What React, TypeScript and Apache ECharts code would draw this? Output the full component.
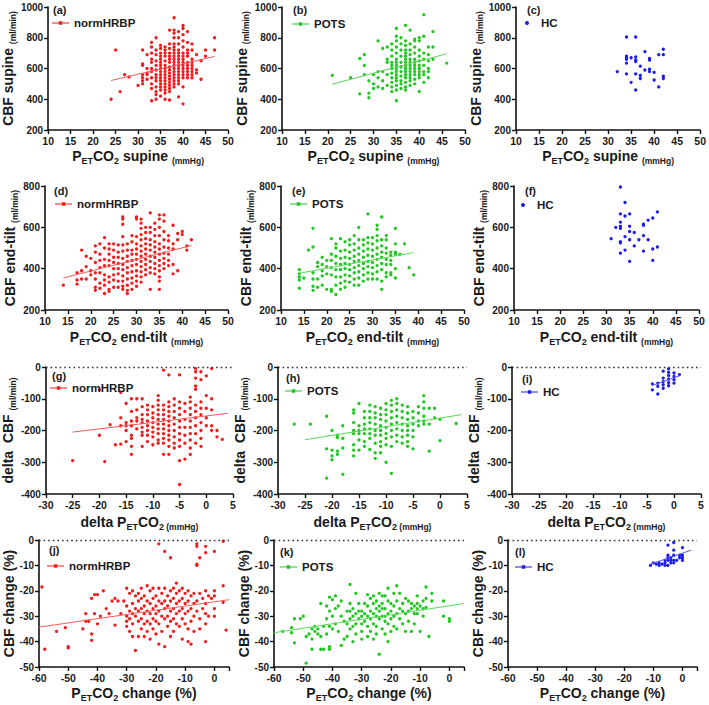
import React, { useEffect, useRef } from 'react';
import * as echarts from 'echarts';

type Col = [number, number[]];
type Pt = [number, number];

// ---------- DATA ----------
// (a) normHRBP: PETCO2 supine (mmHg) vs CBF supine (ml/min)
const normSupine: Col[] = [
  [24, [400]], [25, [720]], [26, [450]], [27, [560]], [28, [545]], [30, [490]],
  [31, [720, 630, 620, 560, 540, 520, 500]],
  [32, [690, 600, 570, 560, 530]],
  [33, [770, 740, 700, 660, 640, 600, 580, 540, 500, 470, 390]],
  [34, [800, 720, 690, 650, 620, 590, 560, 540, 520, 480, 450, 430, 400]],
  [35, [750, 730, 700, 680, 660, 640, 620, 600, 580, 560, 540, 520, 500, 480, 460, 420]],
  [36, [740, 720, 700, 680, 650, 620, 600, 580, 560, 540, 520, 500, 480, 460, 440, 400]],
  [37, [850, 760, 730, 700, 680, 660, 640, 610, 590, 570, 550, 530, 510, 490, 470, 450, 395]],
  [38, [930, 850, 830, 800, 760, 740, 720, 700, 680, 660, 640, 620, 600, 580, 560, 540, 520, 500, 480]],
  [39, [840, 800, 760, 720, 700, 680, 660, 640, 620, 600, 580, 560, 540, 520, 500, 415]],
  [40, [880, 860, 820, 780, 740, 700, 680, 660, 640, 620, 600, 580, 560, 540, 480, 370]],
  [41, [840, 770, 720, 700, 680, 640, 620, 600, 580, 560, 540]],
  [42, [760, 720, 660, 640, 620, 600, 580, 560, 540]],
  [43, [690, 590, 570]], [44, [650, 530]], [45, [720, 680]], [47, [800, 720]],
];
const fitNormSupine: Pt[] = [[24, 522], [47, 678]];

// (b) POTS supine
const potsSupine: Col[] = [
  [21, [555]], [25, [540]], [27, [665, 435]], [28, [690, 620, 560]], [29, [520, 440, 410]],
  [30, [560, 500, 470]], [31, [780, 580, 540, 480]], [32, [730, 580, 520, 470]],
  [33, [740, 660, 640, 560, 490]],
  [34, [760, 720, 680, 640, 620, 600, 570, 540, 510, 480, 450]],
  [35, [860, 810, 780, 740, 700, 660, 640, 620, 600, 580, 560, 540, 520, 490, 460, 390]],
  [36, [800, 760, 720, 680, 640, 610, 580, 550, 520, 500, 470]],
  [37, [880, 780, 750, 720, 700, 680, 660, 640, 620, 600, 580, 560, 540, 510, 480, 460]],
  [38, [850, 760, 720, 690, 660, 640, 620, 600, 580, 560, 540, 520, 490]],
  [39, [790, 780, 740, 700, 660, 640, 620, 600, 580, 560, 530, 500]],
  [40, [800, 780, 720, 680, 650, 620, 600, 580, 560, 540, 450]],
  [41, [950, 810, 700, 660, 620, 580, 560, 510]],
  [42, [740, 690, 650, 600, 580, 540]], [43, [840, 740, 660]], [46, [635]],
];
const fitPotsSupine: Pt[] = [[21, 498], [46, 696]];

// (c) HC supine
const hcSupine: Pt[] = [
  [34, 805], [36, 805], [34, 680], [34, 670], [34, 660], [34, 635], [34, 565], [32, 580],
  [35, 670], [35, 510], [36, 675], [36, 655], [36, 645], [36, 565], [36, 460], [37, 615],
  [37, 555], [37, 535], [38, 710], [38, 590], [39, 665], [39, 655], [39, 595], [39, 580],
  [40, 575], [40, 525], [41, 690], [41, 480], [42, 725], [42, 690], [42, 550], [42, 535],
];

// (d) normHRBP end-tilt
const normTilt: Col[] = [
  [14, [320]], [17, [380, 345, 325]], [18, [490, 390, 350]], [19, [460, 410, 350]],
  [20, [450, 390, 370]], [21, [510, 480, 430, 380, 350, 310, 295]],
  [22, [520, 470, 440, 405, 380, 330, 305]],
  [23, [550, 500, 445, 415, 370, 345, 320, 280]],
  [24, [520, 495, 470, 440, 415, 360, 335, 300, 290]],
  [25, [520, 490, 455, 430, 400, 370, 345, 310]],
  [26, [515, 480, 455, 425, 400, 375, 340, 310]],
  [27, [650, 640, 615, 555, 515, 485, 450, 420, 395, 365, 340, 315, 300]],
  [28, [520, 490, 460, 435, 405, 380, 350, 320, 295, 280]],
  [29, [560, 530, 490, 470, 440, 415, 385, 355, 330, 300]],
  [30, [650, 640, 555, 520, 495, 470, 445, 420, 390, 365, 340, 315]],
  [31, [640, 620, 595, 565, 540, 510, 485, 460, 435, 410, 385, 360, 335]],
  [32, [600, 575, 545, 520, 495, 470, 445, 420, 395, 370]],
  [33, [670, 600, 575, 540, 515, 490, 460, 435, 405, 380, 300]],
  [34, [620, 590, 560, 530, 505, 480, 455, 425, 400, 375]],
  [35, [660, 640, 600, 560, 520, 495, 470, 440, 415, 390, 360, 340, 300]],
  [36, [660, 630, 580, 540, 505, 475, 450, 425, 400]],
  [37, [560, 535, 500, 470, 440, 415]], [38, [610, 520, 495, 420, 375]],
  [39, [570, 540, 390]], [40, [580, 565]], [41, [510, 490]], [42, [540]],
];
const fitNormTilt: Pt[] = [[14, 355], [42, 512]];

// (e) POTS end-tilt
const potsTilt: Col[] = [
  [14, [395, 375, 360, 345, 305]], [15, [355]], [16, [490]], [17, [595, 505, 380, 350, 315, 295]],
  [18, [430, 410, 350, 310]], [19, [455, 420, 390, 365, 320]], [20, [440, 410, 375, 300]],
  [21, [545, 470, 440, 405, 370, 300, 290]],
  [22, [520, 500, 460, 425, 395, 360, 320, 275]],
  [23, [545, 485, 450, 420, 395, 360, 330, 300]],
  [24, [530, 490, 455, 425, 400, 370, 340, 310]],
  [25, [540, 515, 480, 450, 420, 395, 365, 335]],
  [26, [560, 520, 490, 460, 435, 405, 380, 350, 320]],
  [27, [600, 540, 500, 470, 440, 415, 385, 355, 320]],
  [28, [540, 515, 485, 455, 425, 400, 370, 340]],
  [29, [665, 550, 525, 495, 465, 435, 410, 380, 350]],
  [30, [550, 520, 490, 460, 430, 405, 375, 350]],
  [31, [610, 590, 560, 535, 500, 470, 445, 415, 385, 350]],
  [32, [650, 540, 510, 480, 455, 425, 395, 340, 300]],
  [33, [560, 540, 500, 475, 445, 420, 380, 360]],
  [34, [480, 465, 440, 420, 380, 370]], [35, [595, 520, 480, 470, 400, 355]],
  [36, [470]], [37, [520]], [38, [405]], [39, [370]],
];
const fitPotsTilt: Pt[] = [[14, 378], [39, 478]];

// (f) HC end-tilt
const hcTilt: Pt[] = [
  [33, 795], [34, 720], [33, 665], [34, 655], [35, 665], [32, 600], [33, 605], [33, 595],
  [33, 625], [35, 605], [36, 575], [35, 580], [31, 545], [33, 530], [33, 525], [34, 555],
  [35, 540], [37, 540], [38, 560], [38, 610], [38, 615], [39, 635], [39, 540], [40, 645],
  [41, 675], [36, 510], [33, 475], [34, 490], [38, 485], [40, 495], [41, 505], [35, 435], [40, 440],
];

// (g) normHRBP delta PETCO2 (mmHg) vs delta CBF (ml/min)
const normDelta: Col[] = [
  [-25, [-295]], [-20, [-72, -215]], [-19, [-298]], [-18, [-182]], [-17, [-245]],
  [-16, [-80, -160, -185, -243]], [-15, [-115, -175, -185, -200, -235]],
  [-14, [-100, -140, -170, -185, -215, -225, -250, -275]],
  [-13, [-100, -135, -160, -170, -195]],
  [-12, [-100, -125, -150, -165, -175, -190, -205, -215, -250]],
  [-11, [-120, -135, -150, -170, -185, -200, -215, -235]],
  [-10, [-125, -145, -160, -175, -190, -205, -220, -245]],
  [-9, [-90, -105, -120, -135, -150, -165, -180, -195, -210, -230, -240]],
  [-8, [-10, -120, -135, -150, -165, -180, -195, -210, -225, -240, -275]],
  [-7, [-25, -110, -125, -140, -155, -170, -185, -200, -215, -230, -250, -275]],
  [-6, [-100, -120, -140, -160, -180, -200, -220, -240, -255]],
  [-5, [-25, -110, -130, -150, -170, -190, -210, -230, -250, -295, -370]],
  [-4, [-115, -140, -165, -190, -215, -240, -290]],
  [-3, [-95, -110, -130, -150, -170, -190, -210, -230, -255, -275]],
  [-2, [-5, -15, -35, -60, -70, -120, -140, -160, -185, -210, -240]],
  [-1, [-15, -40, -110, -130, -150, -175, -200, -225, -250]],
  [0, [-28, -90, -130, -160, -185]], [1, [-5, -100, -135, -185, -200]],
  [2, [-200, -220]], [3, [-228]],
];
const fitNormDelta: Pt[] = [[-25, -205], [4, -146]];

// (h) POTS delta
const potsDelta: Col[] = [
  [-27, [-180]], [-24, [-180]], [-21, [-155, -258, -350]], [-20, [-200, -262, -280, -292]],
  [-19, [-215, -222, -265, -275]], [-18, [-185, -225, -255, -338]],
  [-16, [-135, -145, -175, -200, -210, -245, -262, -280]],
  [-15, [-115, -185, -200, -210, -230, -262]],
  [-14, [-140, -160, -180, -195, -210, -235, -250]],
  [-13, [-120, -140, -160, -175, -195, -210, -225, -260]],
  [-12, [-125, -145, -160, -180, -200, -215, -240, -270, -288]],
  [-11, [-130, -150, -165, -185, -200, -215, -235, -250, -270]],
  [-10, [-115, -135, -150, -170, -190, -210, -225, -245, -300]],
  [-9, [-105, -120, -140, -160, -180, -200, -220, -250, -335]],
  [-8, [-100, -115, -135, -155, -175, -195, -215, -235]],
  [-7, [-120, -140, -160, -180, -200, -220, -240]],
  [-6, [-125, -145, -165, -185, -200, -215, -235, -250]],
  [-5, [-140, -160, -180, -200, -220, -258]],
  [-4, [-125, -145, -170, -185]], [-3, [-90, -110, -130, -155, -170, -180]],
  [-2, [-130, -180, -265]], [-1, [-130, -160]], [0, [-165, -232]], [3, [-178]],
];
const fitPotsDelta: Pt[] = [[-25, -229], [4, -150]];

// (i) HC delta
const hcDelta: Pt[] = [
  [-4, -53], [-4, -72], [-3, -51], [-3, -61], [-3, -85], [-2, -13], [-2, -35], [-2, -46],
  [-2, -56], [-2, -67], [-1, -6], [-1, -17], [-1, -27], [-1, -38], [-1, -49], [-1, -59],
  [0, -19], [0, -30], [0, -40], [0, -51], [1, -24],
];
const fitHcDelta: Pt[] = [[-4, -58], [1, -28]];

// (j) normHRBP PETCO2 change (%) vs CBF change (%)
const normChange: Pt[] = [
  [-59, -18.5], [-58, -43], [-54, -36], [-51, -34.5], [-50, -42], [-50, -42.5], [-45, -35],
  [-44, -29], [-44, -32], [-43, -32], [-42, -23], [-42, -37], [-42, -39.5], [-41, -21.5],
  [-41, -29], [-40, -21.5], [-40, -33], [-39, -30], [-38, -20], [-37, -27], [-36, -29],
  [-35, -24], [-34, -33.5], [-34, -23], [-33, -24], [-32, -29], [-31, -24],
  [-30, -19], [-30, -26], [-30, -30], [-30, -32], [-30, -34], [-29, -21], [-29, -28], [-29, -31],
  [-29, -36], [-28, -20], [-28, -25], [-28, -29], [-28, -33], [-28, -38], [-27, -22], [-27, -27],
  [-27, -30], [-27, -43.5], [-26, -21], [-26, -24], [-26, -28], [-26, -32], [-26, -38],
  [-25, -19], [-25, -23], [-25, -27], [-25, -31], [-25, -35], [-24, -22], [-24, -26], [-24, -29],
  [-24, -33], [-24, -38], [-23, -18], [-23, -24], [-23, -28], [-23, -32], [-23, -36], [-22, -20],
  [-22, -25], [-22, -29], [-22, -33], [-22, -39], [-21, -19], [-21, -23], [-21, -27], [-21, -31],
  [-21, -35], [-20, -22], [-20, -26], [-20, -29], [-20, -32], [-20, -37], [-19, -1.5], [-19, -19],
  [-19, -24], [-19, -28], [-19, -33], [-19, -41], [-18, -21], [-18, -25], [-18, -30], [-18, -36],
  [-17, -4.5], [-17, -19], [-17, -24], [-17, -27], [-17, -31], [-17, -42], [-16, -22], [-16, -26],
  [-16, -30], [-16, -34], [-15, -7], [-15, -20], [-15, -24], [-15, -28], [-15, -32], [-15, -38],
  [-14, -19], [-14, -23], [-14, -27], [-14, -31], [-14, -36], [-13, -17], [-13, -21], [-13, -25],
  [-13, -29], [-13, -33], [-12, -20], [-12, -24], [-12, -28], [-12, -34], [-11, -19], [-11, -23],
  [-11, -27], [-11, -31], [-11, -39], [-10, -21], [-10, -25], [-10, -29], [-10, -33], [-9, -20],
  [-9, -24], [-9, -28], [-9, -35], [-9, -40], [-8, -22], [-8, -27], [-8, -32], [-8, -41],
  [-7, -21], [-7, -25], [-7, -30], [-7, -36], [-6, -1.5], [-6, -2.5], [-6, -9.5], [-6, -10],
  [-6, -24], [-6, -28], [-5, -7], [-5, -21], [-5, -31], [-5, -35], [-4, -23], [-4, -27],
  [-3, -2.5], [-3, -5], [-3, -20], [-3, -25], [-3, -29], [-3, -33], [-3, -40], [-2, -22],
  [-2, -30], [-1, -23], [0, -4.5], [0, -20], [0, -22], [0, -27], [0, -30], [3, -0.5],
  [3, -18], [3, -24.5], [4, -35.5],
];
const fitNormChange: Pt[] = [[-60, -34.3], [5, -23.5]];

// (k) POTS change
const potsChange: Pt[] = [
  [-57, -36], [-54, -34.5], [-54, -36.5], [-53, -40.5], [-53, -31], [-51, -31], [-50, -30],
  [-49, -38], [-49, -48.5], [-48, -37], [-47, -35], [-47, -39], [-47, -43], [-46, -34], [-46, -36],
  [-45, -37], [-45, -35], [-44, -25], [-44, -38], [-44, -43], [-43, -34], [-43, -43], [-42, -26],
  [-42, -31], [-42, -37], [-41, -22.5], [-41, -28], [-41, -34], [-41, -42], [-41, -43], [-40, -23.5],
  [-40, -30], [-40, -35], [-39, -22], [-39, -27], [-39, -33], [-38, -26], [-38, -36], [-37, -24],
  [-37, -30], [-37, -41.5], [-36, -32], [-36, -39], [-35, -28], [-35, -33], [-35, -38], [-34, -17.5],
  [-34, -25], [-34, -28], [-34, -31], [-34, -35], [-33, -27], [-33, -30], [-33, -34], [-33, -40],
  [-32, -21], [-32, -29], [-32, -33], [-32, -37], [-31, -25], [-31, -28], [-31, -31], [-30, -28],
  [-30, -30], [-30, -33], [-30, -36], [-30, -39], [-29, -25], [-29, -29], [-29, -32], [-28, -21.5],
  [-28, -26], [-28, -30], [-28, -34], [-28, -38], [-27, -23], [-27, -28], [-27, -31], [-27, -36],
  [-26, -22], [-26, -25], [-26, -29], [-26, -33], [-26, -39], [-25, -24], [-25, -27], [-25, -30],
  [-25, -34], [-25, -37], [-24, -21], [-24, -26], [-24, -28], [-24, -31], [-24, -45], [-23, -22],
  [-23, -25], [-23, -27], [-23, -30], [-23, -35], [-22, -22], [-22, -27], [-22, -30], [-22, -32],
  [-22, -37], [-21, -19], [-21, -24], [-21, -29], [-21, -33], [-21, -40], [-20, -25], [-20, -28],
  [-20, -31], [-20, -36], [-19, -21], [-19, -26], [-19, -30], [-19, -34], [-18, -18], [-18, -24],
  [-18, -29], [-18, -35], [-17, -21], [-17, -27], [-17, -31], [-16, -25], [-16, -28], [-16, -33],
  [-15, -23], [-15, -29], [-15, -36], [-14, -24], [-14, -28], [-14, -32], [-13, -25], [-13, -27],
  [-13, -36], [-12, -26], [-12, -29], [-12, -33], [-11, -22], [-11, -25], [-11, -27], [-11, -29],
  [-10, -26], [-10, -36], [-9, -24], [-9, -27], [-9, -30], [-8, -18.5], [-8, -23], [-8, -26.5],
  [-7, -38], [-6, -21], [-6, -24], [-2, -24], [-2, -30], [0, -31], [0, -32],
];
const fitPotsChange: Pt[] = [[-60, -36.5], [5, -25]];

// (l) HC change
const hcChange: Pt[] = [
  [-11, -10], [-10, -9], [-9, -9.5], [-8, -9], [-8, -10], [-7, -9.5], [-6, -8], [-6, -9], [-6, -10],
  [-5, -2], [-5, -6], [-5, -7], [-5, -8], [-5, -10], [-4, -7], [-4, -8], [-4, -9], [-3, -1],
  [-3, -4], [-3, -6], [-3, -8], [-3, -9], [-2, -8], [-1, -6], [-1, -7], [0, -3], [0, -6],
  [0, -7], [0, -8],
];
const fitHcChange: Pt[] = [[-11, -9.5], [3, -4]];

const panelLabels = ['(a)', '(b)', '(c)', '(d)', '(e)', '(f)', '(g)', '(h)', '(i)', '(j)', '(k)', '(l)'];
const groupNames = ['normHRBP', 'POTS', 'HC'];

// ---------- LAYOUT / STYLE ----------
const FONT = '"Liberation Sans", Arial, sans-serif';
const INK = '#1a1a1a';
const COLORS = ['#f21c1c', '#22c822', '#1c1cf0'];
const FIT_COLORS = ['#f75a5a', '#5ad85a', '#5a5af5'];

const flat = (cols: Col[]): Pt[] => cols.flatMap(([x, ys]) => ys.map((y) => [x, y] as Pt));

const rowsLayout = [
  { top: 7, height: 123, xMin: 10, xMax: 50, xInt: 5, yMin: 200, yMax: 1000, yInt: 200, nameGapX: 17, nameGapY: 23,
    xName: '{b|P}{s|ET}{b|CO}{s|2}{b| supine }{m|(mmHg)}', yName: '{b|CBF supine }{m|(ml/min)}' },
  { top: 186, height: 124, xMin: 10, xMax: 50, xInt: 5, yMin: 200, yMax: 800, yInt: 200, nameGapX: 18, nameGapY: 23,
    xName: '{b|P}{s|ET}{b|CO}{s|2}{b| end-tilt }{m|(mmHg)}', yName: '{b|CBF end-tilt }{m|(ml/min)}' },
  { top: 367, height: 127, xMin: -30, xMax: 5, xInt: 5, yMin: -400, yMax: 0, yInt: 100, nameGapX: 19, nameGapY: 21,
    xName: '{b|delta P}{s|ET}{b|CO}{s|2}{m| (mmHg)}', yName: '{b|delta  CBF }{m|(ml/min)}' },
  { top: 540, height: 127, xMin: -60, xMax: 5, xInt: 10, yMin: -50, yMax: 0, yInt: 10, nameGapX: 17, nameGapY: 18,
    xName: '{b|P}{s|ET}{b|CO}{s|2}{b| change (%)}', yName: '{b|CBF change (%)}' },
];

const colsLayout = [
  [[45, 183], [282, 183], [516, 186]],
  [[45, 183], [281, 183], [514, 185]],
  [[43, 190], [278, 189], [512, 189]],
  [[39, 190], [274, 190], [508, 189]],
];

// label (x, centerY) and legend (iconLeft, centerY)
const labelPos = [
  [53, 10], [293, 10], [527, 10],
  [54, 191], [292, 191], [525, 191],
  [52, 376], [286, 378], [522, 379],
  [49, 550], [280, 552], [515, 552],
];
const legendPos = [
  [52, 23], [292, 24], [525, 23],
  [55, 204], [290, 204], [521, 205],
  [50, 388], [285, 391], [521, 392],
  [47, 566], [280, 567], [515, 567],
];

const panelData: Pt[][] = [
  flat(normSupine), flat(potsSupine), hcSupine,
  flat(normTilt), flat(potsTilt), hcTilt,
  flat(normDelta), flat(potsDelta), hcDelta,
  normChange, potsChange, hcChange,
];
const panelFits: (Pt[] | null)[] = [
  fitNormSupine, fitPotsSupine, null,
  fitNormTilt, fitPotsTilt, null,
  fitNormDelta, fitPotsDelta, fitHcDelta,
  fitNormChange, fitPotsChange, fitHcChange,
];

const LINE_ICON = 'path://M0,3h20v1.2h-20z M8,1.4h4v4.4h-4z';

function buildOption() {
  const grid: any[] = [];
  const xAxis: any[] = [];
  const yAxis: any[] = [];
  const series: any[] = [];
  const legend: any[] = [];
  const graphic: any[] = [];

  const richName = {
    b: { fontSize: 14, fontWeight: 'bold', fontFamily: FONT, color: INK, lineHeight: 18, verticalAlign: 'middle' },
    s: { fontSize: 9, fontWeight: 'bold', fontFamily: FONT, color: INK, lineHeight: 9, verticalAlign: 'bottom' },
    m: { fontSize: 8.5, fontWeight: 'bold', fontFamily: FONT, color: INK, lineHeight: 14, verticalAlign: 'bottom' },
  };

  for (let i = 0; i < 12; i++) {
    const r = Math.floor(i / 3);
    const c = i % 3;
    const row = rowsLayout[r];
    const [left, width] = colsLayout[r][c];
    grid.push({ left, top: row.top, width, height: row.height, containLabel: false });

    const axisLine = { show: true, onZero: false, lineStyle: { color: '#111', width: 1.6 } };
    const axisTick = { show: true, length: 4, lineStyle: { color: '#111', width: 1.4 } };
    xAxis.push({
      gridIndex: i, type: 'value', min: row.xMin, max: row.xMax, interval: row.xInt,
      axisLine, axisTick, splitLine: { show: false },
      axisLabel: {
        color: INK, fontSize: 10.5, fontWeight: 'bold', fontFamily: FONT, margin: 5,
        formatter: (v: number) => (v === 5 && r === 3 ? '' : String(v)),
      },
      name: row.xName, nameLocation: 'middle', nameGap: row.nameGapX,
      nameTextStyle: { rich: richName },
    });
    yAxis.push({
      gridIndex: i, type: 'value', min: row.yMin, max: row.yMax, interval: row.yInt,
      axisLine, axisTick, splitLine: { show: false },
      axisLabel: {
        color: INK, fontSize: 10, fontWeight: 'bold', fontFamily: FONT, margin: 5,
        formatter: (v: number) => String(v),
      },
      name: row.yName, nameLocation: 'middle', nameGap: row.nameGapY,
      nameTextStyle: { rich: richName },
    });

    const name = groupNames[c];
    const scatter: any = {
      type: 'scatter', name, xAxisIndex: i, yAxisIndex: i,
      data: panelData[i], symbol: 'circle', symbolSize: 3.3,
      itemStyle: { color: COLORS[c], opacity: 1 },
      emphasis: { disabled: true }, silent: true,
    };
    if (r >= 2) {
      scatter.markLine = {
        silent: true, symbol: ['none', 'none'], label: { show: false },
        lineStyle: { type: [1.6, 3], color: '#333', width: 1.3 },
        data: [{ yAxis: 0 }],
      };
    }
    series.push(scatter);

    const fit = panelFits[i];
    if (fit) {
      series.push({
        type: 'line', name: `fit-${i}`, xAxisIndex: i, yAxisIndex: i, data: fit,
        symbol: 'none', silent: true, lineStyle: { color: FIT_COLORS[c], width: 1 },
        itemStyle: { color: FIT_COLORS[c] }, emphasis: { disabled: true }, z: 3,
      });
    }

    const [lx, ly] = legendPos[i];
    const dotOnly = !fit;
    legend.push({
      left: lx, top: ly - 7, padding: 0, orient: 'horizontal', selectedMode: false,
      itemWidth: dotOnly ? 18 : 17, itemHeight: dotOnly ? 4 : 8,
      data: [{ name, icon: dotOnly ? 'circle' : LINE_ICON }],
      textStyle: { color: INK, fontSize: 11.5, fontWeight: 'bold', fontFamily: FONT, lineHeight: 14 },
    });

    const [tx, ty] = labelPos[i];
    graphic.push({
      type: 'text', x: tx, y: ty, silent: true,
      style: { text: panelLabels[i], fill: INK, font: `bold 11px ${FONT}`, verticalAlign: 'middle' },
    });
  }

  return { animation: false, backgroundColor: '#ffffff', grid, xAxis, yAxis, series, legend, graphic };
}

export default function App() {
  const ref = useRef<HTMLDivElement>(null);
  useEffect(() => {
    document.body.style.margin = '0';
    if (!ref.current) return;
    const chart = echarts.init(ref.current, undefined, { renderer: 'svg' });
    chart.setOption(buildOption() as any);
    return () => chart.dispose();
  }, []);
  return <div ref={ref} style={{ width: 709, height: 705 }} />;
}
